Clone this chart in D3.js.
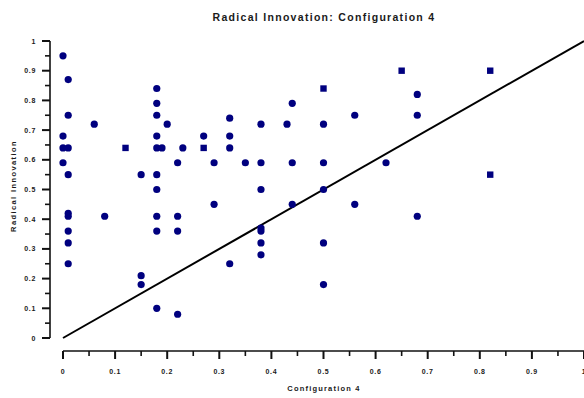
<!DOCTYPE html>
<html>
<head>
<meta charset="utf-8">
<script src="https://cdn.jsdelivr.net/npm/d3@7"></script>
<style>
  body { margin: 0; background: #fff; }
  text { font-family: "Liberation Sans", Arial, sans-serif; font-weight: bold; fill: #1a1a1a; }
</style>
</head>
<body>
<div class="chart"></div>
<script>
// circle markers
var circleX = [0, 0.01, 0.01, 0.06, 0, 0, 0.01, 0, 0.01, 0.15,
               0.18, 0.18, 0.18, 0.20, 0.18, 0.18, 0.19, 0.23, 0.22, 0.18, 0.18,
               0.01, 0.01, 0.01, 0.01, 0.01, 0.08, 0.18, 0.18, 0.22, 0.22, 0.15, 0.15, 0.18, 0.22,
               0.44, 0.32, 0.38, 0.43, 0.50, 0.56, 0.27, 0.32, 0.32, 0.29, 0.35, 0.38, 0.44, 0.50, 0.38, 0.50,
               0.29, 0.44, 0.56, 0.38, 0.38, 0.38, 0.38, 0.32, 0.50, 0.50,
               0.68, 0.68, 0.62, 0.68];
var circleY = [0.95, 0.87, 0.75, 0.72, 0.68, 0.64, 0.64, 0.59, 0.55, 0.55,
               0.84, 0.79, 0.75, 0.72, 0.68, 0.64, 0.64, 0.64, 0.59, 0.55, 0.50,
               0.42, 0.41, 0.36, 0.32, 0.25, 0.41, 0.41, 0.36, 0.41, 0.36, 0.21, 0.18, 0.10, 0.08,
               0.79, 0.74, 0.72, 0.72, 0.72, 0.75, 0.68, 0.68, 0.64, 0.59, 0.59, 0.59, 0.59, 0.59, 0.50, 0.50,
               0.45, 0.45, 0.45, 0.37, 0.36, 0.32, 0.28, 0.25, 0.32, 0.18,
               0.82, 0.75, 0.59, 0.41];

// square markers
var squareX = [0.12, 0.27, 0.50, 0.65, 0.82, 0.82];
var squareY = [0.64, 0.64, 0.84, 0.90, 0.90, 0.55];

// reference line y = x
var lineX = [0, 1];
var lineY = [0, 1];

var majorTicks = [0, 0.1, 0.2, 0.3, 0.4, 0.5, 0.6, 0.7, 0.8, 0.9, 1];
var minorTicks = [0.05, 0.15, 0.25, 0.35, 0.45, 0.55, 0.65, 0.75, 0.85, 0.95];
var tickLabels = ["0", "0.1", "0.2", "0.3", "0.4", "0.5", "0.6", "0.7", "0.8", "0.9", "1"];

var w = 584, h = 398;
var navy = "#00007f";

var svg = d3.select("div.chart")
            .append("svg")
            .attr("width", w)
            .attr("height", h);

var x = d3.scaleLinear().domain([0, 1]).range([63, 584]);
var y = d3.scaleLinear().domain([0, 1]).range([338, 41]);

var yAxisX = 50, xAxisY = 351;

// x axis
svg.append("line")
   .attr("x1", x(0)).attr("x2", x(1))
   .attr("y1", xAxisY).attr("y2", xAxisY)
   .attr("stroke", "#111").attr("stroke-width", 1.6);

svg.selectAll(".xmajor")
   .data(majorTicks)
   .enter()
   .append("line")
   .attr("x1", d => x(d)).attr("x2", d => x(d))
   .attr("y1", xAxisY).attr("y2", xAxisY + 8)
   .attr("stroke", "#111").attr("stroke-width", 2);

svg.selectAll(".xminor")
   .data(minorTicks)
   .enter()
   .append("line")
   .attr("x1", d => x(d)).attr("x2", d => x(d))
   .attr("y1", xAxisY).attr("y2", xAxisY + 5)
   .attr("stroke", "#111").attr("stroke-width", 1.6);

svg.selectAll(".xlabel")
   .data(majorTicks)
   .enter()
   .append("text")
   .attr("x", d => x(d))
   .attr("y", 373.5)
   .attr("text-anchor", "middle")
   .style("font-size", "7px")
   .style("letter-spacing", "0.7px")
   .text((d, i) => tickLabels[i]);

// y axis
svg.append("line")
   .attr("x1", yAxisX).attr("x2", yAxisX)
   .attr("y1", y(0)).attr("y2", y(1))
   .attr("stroke", "#111").attr("stroke-width", 1.6);

svg.selectAll(".ymajor")
   .data(majorTicks)
   .enter()
   .append("line")
   .attr("x1", yAxisX - 8).attr("x2", yAxisX)
   .attr("y1", d => y(d)).attr("y2", d => y(d))
   .attr("stroke", "#111").attr("stroke-width", 2);

svg.selectAll(".yminor")
   .data(minorTicks)
   .enter()
   .append("line")
   .attr("x1", yAxisX - 5).attr("x2", yAxisX)
   .attr("y1", d => y(d)).attr("y2", d => y(d))
   .attr("stroke", "#111").attr("stroke-width", 1.6);

svg.selectAll(".ylabel")
   .data(majorTicks)
   .enter()
   .append("text")
   .attr("x", 36)
   .attr("y", d => y(d) + 2.5)
   .attr("text-anchor", "end")
   .style("font-size", "7px")
   .style("letter-spacing", "0.7px")
   .text((d, i) => tickLabels[i]);

// titles
svg.append("text")
   .attr("x", 324).attr("y", 20.5)
   .attr("text-anchor", "middle")
   .style("font-size", "10.5px")
   .style("letter-spacing", "1.3px")
   .text("Radical Innovation: Configuration 4");

svg.append("text")
   .attr("x", 324).attr("y", 391)
   .attr("text-anchor", "middle")
   .style("font-size", "7.5px")
   .style("letter-spacing", "1.2px")
   .text("Configuration 4");

svg.append("text")
   .attr("transform", "translate(16,186) rotate(-90)")
   .attr("text-anchor", "middle")
   .style("font-size", "7.5px")
   .style("letter-spacing", "1.4px")
   .text("Radical Innovation");

// reference line
var line = d3.line()
             .x(d => x(d[0]))
             .y(d => y(d[1]));

svg.append("path")
   .datum(lineX.map((v, i) => [v, lineY[i]]))
   .attr("d", line)
   .attr("fill", "none")
   .attr("stroke", "#000")
   .attr("stroke-width", 2);

// points
svg.selectAll(".circ")
   .data(circleX.map((v, i) => [v, circleY[i]]))
   .enter()
   .append("circle")
   .attr("cx", d => x(d[0]))
   .attr("cy", d => y(d[1]))
   .attr("r", 3.6)
   .attr("fill", navy);

svg.selectAll(".sq")
   .data(squareX.map((v, i) => [v, squareY[i]]))
   .enter()
   .append("rect")
   .attr("x", d => x(d[0]) - 3.2)
   .attr("y", d => y(d[1]) - 3.2)
   .attr("width", 6.4)
   .attr("height", 6.4)
   .attr("fill", navy);
</script>
</body>
</html>
